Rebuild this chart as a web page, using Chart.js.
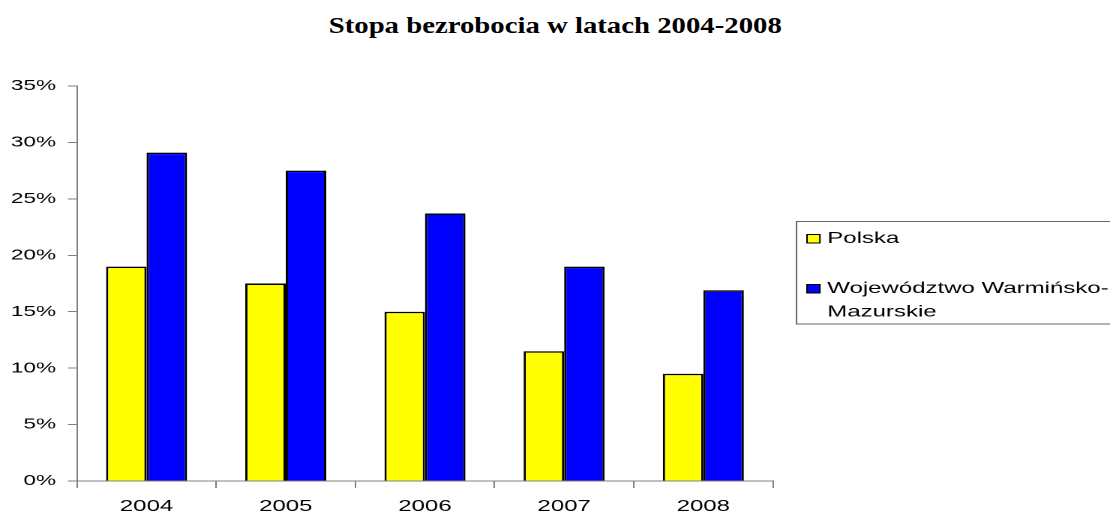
<!DOCTYPE html>
<html>
<head>
<meta charset="utf-8">
<script src="https://cdn.jsdelivr.net/npm/chart.js@4.4.1/dist/chart.umd.min.js"></script>
<style>
    html, body { margin: 0; padding: 0; background: #fff; overflow: hidden; }
    #title {
        position: absolute; left: 0; top: 13px; width: 1110px;
        text-align: center; line-height: 23px;
        font: bold 23px "Liberation Serif", "Times New Roman", serif; color: #000;
    }
    #title span { display: inline-block; transform: scaleX(1.25); }
    /* the original picture is stretched sideways, so the chart is drawn narrow and widened */
    #wrap {
        position: absolute; left: 0; top: 0; width: 740px; height: 513px;
        transform: scaleX(1.5); transform-origin: 0 0;
    }
</style>
</head>
<body>
<div id="title"><span>Stopa bezrobocia w latach 2004-2008</span></div>
<div id="wrap"><canvas id="chart"></canvas></div>
<script>
const years = ['2004', '2005', '2006', '2007', '2008'];
const polska = [19.0, 17.5, 15.0, 11.5, 9.5];
const warminsko = [29.1, 27.5, 23.7, 19.0, 16.9];
const seriesNames = ['Polska', 'Województwo Warmińsko-Mazurskie'];
const yMax = 35;
const yStep = 5;

const axisColor = '#808080';

// legend drawn as a framed box on the right, like the spreadsheet original
const boxLegend = {
    id: 'boxLegend',
    afterDraw(chart) {
        const ctx = chart.ctx;
        ctx.save();
        ctx.strokeStyle = '#404040';
        ctx.lineWidth = 0.8;
        ctx.strokeRect(531, 221.5, 230, 102.5);

        ctx.font = '16px "Liberation Sans", Arial, sans-serif';
        ctx.fillStyle = '#000';
        ctx.textBaseline = 'alphabetic';
        const baselines = [243, 293];
        chart.data.datasets.forEach((ds, i) => {
            const y = baselines[i];
            ctx.fillStyle = ds.backgroundColor;
            ctx.fillRect(538, y - 8.5, 8.6, 8.5);
            ctx.strokeStyle = '#000';
            ctx.lineWidth = 1;
            ctx.strokeRect(538, y - 8.5, 8.6, 8.5);
            ctx.fillStyle = '#000';
            // wrap after the hyphen
            const parts = ds.label.split(/(?<=-)/);
            parts.forEach((p, j) => ctx.fillText(p, 551.5, y + j * 23.5));
        });
        ctx.restore();
    }
};

const ctx = document.getElementById('chart').getContext('2d');
new Chart(ctx, {
    type: 'bar',
    data: {
        labels: years,
        datasets: [
            {
                label: seriesNames[0],
                data: polska,
                backgroundColor: '#ffff00',
                borderColor: '#000',
                borderWidth: 1.5,
                borderSkipped: 'bottom'
            },
            {
                label: seriesNames[1],
                data: warminsko,
                backgroundColor: '#0000ff',
                borderColor: '#000',
                borderWidth: 1.5,
                borderSkipped: 'bottom'
            }
        ]
    },
    options: {
        responsive: true,
        maintainAspectRatio: false,
        animation: false,
        devicePixelRatio: 2,
        categoryPercentage: 0.582,
        barPercentage: 1,
        layout: { padding: { top: 86, right: 224.7, left: 0, bottom: 0 } },
        plugins: {
            legend: { display: false },
            title: { display: false },
            tooltip: { enabled: false }
        },
        scales: {
            x: {
                grid: {
                    offset: true,
                    drawOnChartArea: false,
                    drawTicks: true,
                    tickLength: 7,
                    color: axisColor
                },
                border: { color: axisColor, width: 1 },
                ticks: {
                    color: '#000',
                    padding: 9,
                    maxRotation: 0,
                    font: { family: '"Liberation Sans", Arial, sans-serif', size: 16 }
                },
                afterFit: (scale) => { scale.height = 32; }
            },
            y: {
                min: 0,
                max: yMax,
                grid: {
                    drawOnChartArea: false,
                    drawTicks: true,
                    tickLength: 6,
                    color: axisColor
                },
                border: { color: axisColor, width: 1 },
                ticks: {
                    stepSize: yStep,
                    color: '#000',
                    padding: 8,
                    font: { family: '"Liberation Sans", Arial, sans-serif', size: 15 },
                    callback: (value) => value + '%'
                },
                afterFit: (scale) => { scale.width = 51.3; }
            }
        }
    },
    plugins: [boxLegend]
});
</script>
</body>
</html>
